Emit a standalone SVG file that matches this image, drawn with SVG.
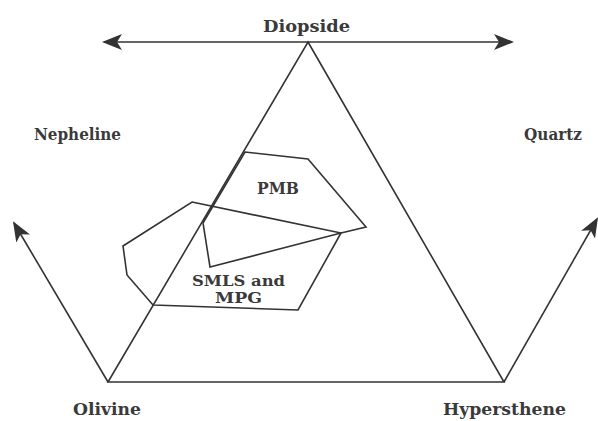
<svg xmlns="http://www.w3.org/2000/svg" width="598" height="421" viewBox="0 0 598 421">
<style>
.ln{fill:none;stroke:#333;stroke-width:1.6;stroke-linejoin:miter}
.lb{font-family:"DejaVu Serif","Liberation Serif",serif;font-size:16px;font-weight:bold;fill:#3a3a3a}
.sm{font-size:14px}
</style>
<defs>
<marker id="ah" viewBox="0 0 20 16" refX="18" refY="8" markerWidth="20" markerHeight="16" markerUnits="userSpaceOnUse" orient="auto">
<path d="M0,0 L20,8 L0,16 L5,8 Z" fill="#333"/>
</marker>
</defs>
<rect width="598" height="421" fill="#fff"/>
<g id="connectors">
<line class="ln" x1="308" y1="42" x2="104" y2="42" marker-end="url(#ah)"/>
<line class="ln" x1="308" y1="42" x2="512" y2="42" marker-end="url(#ah)"/>
<line class="ln" x1="108" y1="382" x2="14" y2="223" marker-end="url(#ah)"/>
<line class="ln" x1="504" y1="382" x2="597" y2="219" marker-end="url(#ah)"/>
</g>
<g id="triangle">
<polygon class="ln" points="308,42 504,382 108,382"/>
</g>
<g id="pmb">
<polygon class="ln" points="245,152 308,159 366,227 341,233 210,267 203,223"/>
<text class="lb" x="257" y="194" textLength="42" lengthAdjust="spacingAndGlyphs">PMB</text>
</g>
<g id="smls">
<polygon class="ln" points="192,202 341,233 298,310 153,305 127,275 123,246"/>
<text class="lb sm" x="192" y="286" textLength="93" lengthAdjust="spacingAndGlyphs">SMLS and</text>
<text class="lb sm" x="215" y="303" textLength="47" lengthAdjust="spacingAndGlyphs">MPG</text>
</g>
<g id="diopside"><text class="lb" x="263" y="32" textLength="87" lengthAdjust="spacingAndGlyphs">Diopside</text></g>
<g id="nepheline"><text class="lb" x="34" y="140" textLength="87" lengthAdjust="spacingAndGlyphs">Nepheline</text></g>
<g id="quartz"><text class="lb" x="524" y="140" textLength="58" lengthAdjust="spacingAndGlyphs">Quartz</text></g>
<g id="olivine"><text class="lb" x="73" y="415" textLength="68" lengthAdjust="spacingAndGlyphs">Olivine</text></g>
<g id="hypersthene"><text class="lb" x="443" y="415" textLength="123" lengthAdjust="spacingAndGlyphs">Hypersthene</text></g>
</svg>
